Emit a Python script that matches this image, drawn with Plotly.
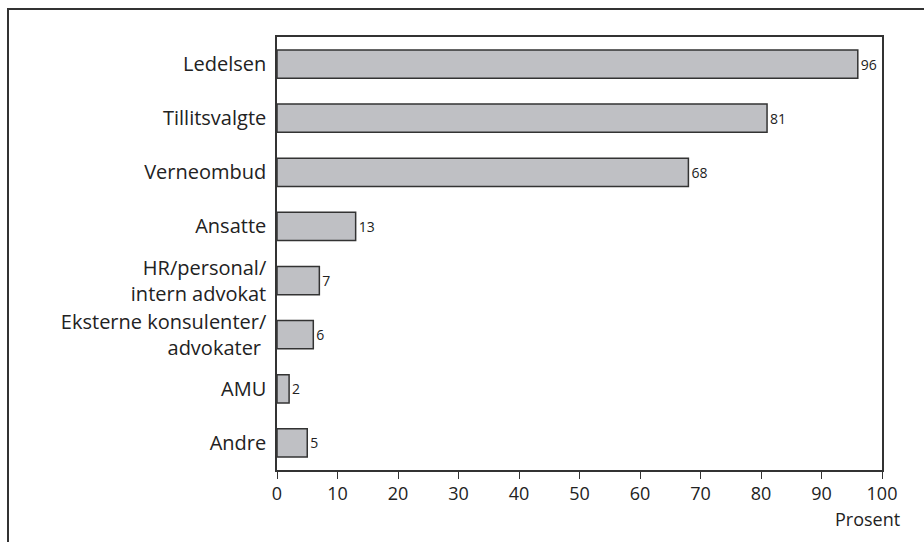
import plotly.graph_objects as go

categories = ["Ledelsen", "Tillitsvalgte", "Verneombud", "Ansatte",
              "HR/personal/<br>intern advokat", "Eksterne konsulenter/<br>advokater ",
              "AMU", "Andre"]
values = [96, 81, 68, 13, 7, 6, 2, 5]
x_ticks = [0, 10, 20, 30, 40, 50, 60, 70, 80, 90, 100]

W, H = 924, 542
L, R, T, B = 277, 42, 37, 72
pw, ph = W - L - R, H - T - B

fig = go.Figure(go.Bar(
    y=categories, x=values, orientation="h",
    marker=dict(color="#bfc0c4", line=dict(color="#333333", width=1.5)),
    width=0.52,
    text=[str(v) for v in values], textposition="outside",
    textfont=dict(size=14, color="#222222", family="Open Sans"),
    cliponaxis=False,
))

def px_x(p):
    return (p - L) / pw

def px_y(p):
    return (H - B - p) / ph

fig.update_layout(
    width=W, height=H,
    margin=dict(l=L, r=R, t=T, b=B),
    paper_bgcolor="white", plot_bgcolor="white",
    font=dict(family="Open Sans", color="#222222"),
    showlegend=False,
    xaxis=dict(range=[0, 100], tickvals=x_ticks, ticks="outside", ticklen=7,
               tickcolor="#333333", tickwidth=1.2, showline=True, linecolor="#333333",
               linewidth=1.5, mirror=True, showgrid=False, zeroline=False,
               tickfont=dict(size=18, color="#222222"), fixedrange=True),
    yaxis=dict(autorange="reversed", showline=True, linecolor="#333333", linewidth=1.5,
               mirror=True, showgrid=False, ticks="", ticklabelstandoff=5,
               tickfont=dict(size=20, color="#222222"), fixedrange=True),
    shapes=[dict(type="rect", xref="paper", yref="paper",
                 x0=px_x(8), x1=px_x(940), y0=px_y(560), y1=px_y(9),
                 line=dict(color="#333333", width=2), layer="above")],
    annotations=[dict(text="Prosent", xref="paper", yref="paper",
                      x=px_x(902), y=px_y(519), xanchor="right", yanchor="middle",
                      showarrow=False, font=dict(size=18, color="#222222"))],
)

fig.write_html("out.html", config={"displayModeBar": False},
               post_script="document.body.style.margin='0';")
